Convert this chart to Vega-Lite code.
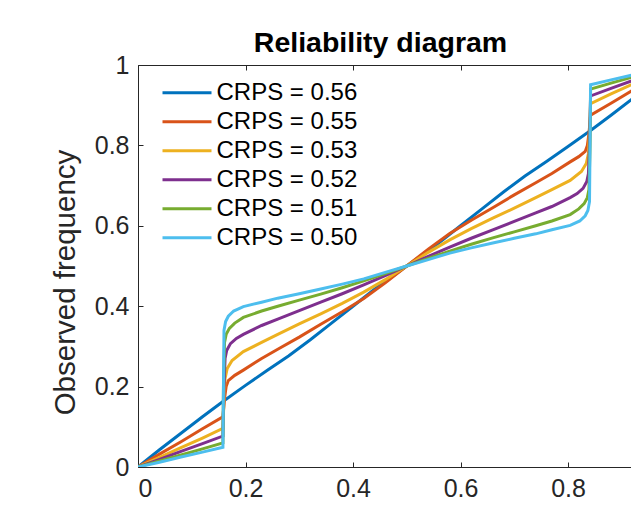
{
  "$schema": "https://vega.github.io/schema/vega-lite/v6.json",
  "width": 493,
  "height": 402,
  "autosize": {"type": "none"},
  "padding": {"left": 138, "top": 65, "right": 0, "bottom": 42},
  "title": {"text": "Reliability diagram", "fontSize": 28.5, "fontWeight": "bold", "font": "Liberation Sans", "color": "#000000", "anchor": "middle", "frame": "group", "offset": -4, "dx": -4},
  "config": {
    "view": {"stroke": null},
    "font": "Liberation Sans",
    "axis": {"labelFont": "Liberation Sans", "labelFontSize": 25, "labelColor": "#262626", "domainColor": "#262626", "tickColor": "#262626", "titleFont": "Liberation Sans", "titleFontSize": 29.5, "titleFontWeight": "normal", "titleColor": "#262626", "grid": false, "tickSize": -5, "domainWidth": 1, "tickWidth": 1}
  },
  "data": {"values": [
    {"s":"CRPS = 0.56","x":0,"y":0},{"s":"CRPS = 0.56","x":0.04,"y":0.043},{"s":"CRPS = 0.56","x":0.08,"y":0.084},{"s":"CRPS = 0.56","x":0.12,"y":0.125},{"s":"CRPS = 0.56","x":0.158,"y":0.163},{"s":"CRPS = 0.56","x":0.2,"y":0.203},{"s":"CRPS = 0.56","x":0.24,"y":0.24},{"s":"CRPS = 0.56","x":0.28,"y":0.276},{"s":"CRPS = 0.56","x":0.32,"y":0.316},{"s":"CRPS = 0.56","x":0.36,"y":0.358},{"s":"CRPS = 0.56","x":0.4,"y":0.4},{"s":"CRPS = 0.56","x":0.44,"y":0.442},{"s":"CRPS = 0.56","x":0.5,"y":0.5},{"s":"CRPS = 0.56","x":0.56,"y":0.558},{"s":"CRPS = 0.56","x":0.6,"y":0.6},{"s":"CRPS = 0.56","x":0.64,"y":0.642},{"s":"CRPS = 0.56","x":0.68,"y":0.684},{"s":"CRPS = 0.56","x":0.72,"y":0.724},{"s":"CRPS = 0.56","x":0.76,"y":0.76},{"s":"CRPS = 0.56","x":0.8,"y":0.797},{"s":"CRPS = 0.56","x":0.842,"y":0.837},{"s":"CRPS = 0.56","x":0.88,"y":0.875},{"s":"CRPS = 0.56","x":0.92,"y":0.916},{"s":"CRPS = 0.56","x":0.96,"y":0.957},{"s":"CRPS = 0.56","x":1,"y":1},

    {"s":"CRPS = 0.55","x":0,"y":0},{"s":"CRPS = 0.55","x":0.04,"y":0.032},{"s":"CRPS = 0.55","x":0.08,"y":0.063},{"s":"CRPS = 0.55","x":0.12,"y":0.095},{"s":"CRPS = 0.55","x":0.158,"y":0.125},{"s":"CRPS = 0.55","x":0.161,"y":0.17},{"s":"CRPS = 0.55","x":0.164,"y":0.2},{"s":"CRPS = 0.55","x":0.168,"y":0.215},{"s":"CRPS = 0.55","x":0.18,"y":0.228},{"s":"CRPS = 0.55","x":0.196,"y":0.241},{"s":"CRPS = 0.55","x":0.23,"y":0.27},{"s":"CRPS = 0.55","x":0.26,"y":0.293},{"s":"CRPS = 0.55","x":0.3,"y":0.323},{"s":"CRPS = 0.55","x":0.34,"y":0.355},{"s":"CRPS = 0.55","x":0.38,"y":0.386},{"s":"CRPS = 0.55","x":0.42,"y":0.419},{"s":"CRPS = 0.55","x":0.46,"y":0.458},{"s":"CRPS = 0.55","x":0.5,"y":0.5},{"s":"CRPS = 0.55","x":0.54,"y":0.542},{"s":"CRPS = 0.55","x":0.58,"y":0.581},{"s":"CRPS = 0.55","x":0.62,"y":0.614},{"s":"CRPS = 0.55","x":0.66,"y":0.645},{"s":"CRPS = 0.55","x":0.7,"y":0.677},{"s":"CRPS = 0.55","x":0.74,"y":0.707},{"s":"CRPS = 0.55","x":0.77,"y":0.73},{"s":"CRPS = 0.55","x":0.804,"y":0.759},{"s":"CRPS = 0.55","x":0.82,"y":0.772},{"s":"CRPS = 0.55","x":0.832,"y":0.785},{"s":"CRPS = 0.55","x":0.836,"y":0.8},{"s":"CRPS = 0.55","x":0.839,"y":0.83},{"s":"CRPS = 0.55","x":0.842,"y":0.875},{"s":"CRPS = 0.55","x":0.88,"y":0.905},{"s":"CRPS = 0.55","x":0.92,"y":0.937},{"s":"CRPS = 0.55","x":0.96,"y":0.968},{"s":"CRPS = 0.55","x":1,"y":1},

    {"s":"CRPS = 0.53","x":0,"y":0},{"s":"CRPS = 0.53","x":0.04,"y":0.024},{"s":"CRPS = 0.53","x":0.08,"y":0.048},{"s":"CRPS = 0.53","x":0.12,"y":0.072},{"s":"CRPS = 0.53","x":0.158,"y":0.096},{"s":"CRPS = 0.53","x":0.16,"y":0.17},{"s":"CRPS = 0.53","x":0.162,"y":0.22},{"s":"CRPS = 0.53","x":0.166,"y":0.245},{"s":"CRPS = 0.53","x":0.175,"y":0.265},{"s":"CRPS = 0.53","x":0.196,"y":0.287},{"s":"CRPS = 0.53","x":0.23,"y":0.31},{"s":"CRPS = 0.53","x":0.26,"y":0.33},{"s":"CRPS = 0.53","x":0.3,"y":0.356},{"s":"CRPS = 0.53","x":0.34,"y":0.381},{"s":"CRPS = 0.53","x":0.38,"y":0.407},{"s":"CRPS = 0.53","x":0.42,"y":0.435},{"s":"CRPS = 0.53","x":0.46,"y":0.466},{"s":"CRPS = 0.53","x":0.5,"y":0.5},{"s":"CRPS = 0.53","x":0.54,"y":0.534},{"s":"CRPS = 0.53","x":0.58,"y":0.565},{"s":"CRPS = 0.53","x":0.62,"y":0.593},{"s":"CRPS = 0.53","x":0.66,"y":0.619},{"s":"CRPS = 0.53","x":0.7,"y":0.644},{"s":"CRPS = 0.53","x":0.74,"y":0.67},{"s":"CRPS = 0.53","x":0.77,"y":0.69},{"s":"CRPS = 0.53","x":0.804,"y":0.713},{"s":"CRPS = 0.53","x":0.825,"y":0.735},{"s":"CRPS = 0.53","x":0.834,"y":0.755},{"s":"CRPS = 0.53","x":0.838,"y":0.78},{"s":"CRPS = 0.53","x":0.84,"y":0.83},{"s":"CRPS = 0.53","x":0.842,"y":0.904},{"s":"CRPS = 0.53","x":0.88,"y":0.928},{"s":"CRPS = 0.53","x":0.92,"y":0.952},{"s":"CRPS = 0.53","x":0.96,"y":0.976},{"s":"CRPS = 0.53","x":1,"y":1},

    {"s":"CRPS = 0.52","x":0,"y":0},{"s":"CRPS = 0.52","x":0.04,"y":0.019},{"s":"CRPS = 0.52","x":0.08,"y":0.039},{"s":"CRPS = 0.52","x":0.12,"y":0.058},{"s":"CRPS = 0.52","x":0.158,"y":0.077},{"s":"CRPS = 0.52","x":0.16,"y":0.2},{"s":"CRPS = 0.52","x":0.162,"y":0.27},{"s":"CRPS = 0.52","x":0.165,"y":0.29},{"s":"CRPS = 0.52","x":0.172,"y":0.307},{"s":"CRPS = 0.52","x":0.183,"y":0.32},{"s":"CRPS = 0.52","x":0.196,"y":0.33},{"s":"CRPS = 0.52","x":0.23,"y":0.352},{"s":"CRPS = 0.52","x":0.26,"y":0.368},{"s":"CRPS = 0.52","x":0.3,"y":0.389},{"s":"CRPS = 0.52","x":0.34,"y":0.41},{"s":"CRPS = 0.52","x":0.38,"y":0.431},{"s":"CRPS = 0.52","x":0.42,"y":0.453},{"s":"CRPS = 0.52","x":0.46,"y":0.476},{"s":"CRPS = 0.52","x":0.5,"y":0.5},{"s":"CRPS = 0.52","x":0.54,"y":0.524},{"s":"CRPS = 0.52","x":0.58,"y":0.547},{"s":"CRPS = 0.52","x":0.62,"y":0.569},{"s":"CRPS = 0.52","x":0.66,"y":0.59},{"s":"CRPS = 0.52","x":0.7,"y":0.611},{"s":"CRPS = 0.52","x":0.74,"y":0.632},{"s":"CRPS = 0.52","x":0.77,"y":0.648},{"s":"CRPS = 0.52","x":0.804,"y":0.67},{"s":"CRPS = 0.52","x":0.817,"y":0.68},{"s":"CRPS = 0.52","x":0.828,"y":0.693},{"s":"CRPS = 0.52","x":0.835,"y":0.71},{"s":"CRPS = 0.52","x":0.838,"y":0.73},{"s":"CRPS = 0.52","x":0.84,"y":0.8},{"s":"CRPS = 0.52","x":0.842,"y":0.923},{"s":"CRPS = 0.52","x":0.88,"y":0.942},{"s":"CRPS = 0.52","x":0.92,"y":0.961},{"s":"CRPS = 0.52","x":0.96,"y":0.981},{"s":"CRPS = 0.52","x":1,"y":1},

    {"s":"CRPS = 0.51","x":0,"y":0},{"s":"CRPS = 0.51","x":0.04,"y":0.015},{"s":"CRPS = 0.51","x":0.08,"y":0.03},{"s":"CRPS = 0.51","x":0.12,"y":0.045},{"s":"CRPS = 0.51","x":0.158,"y":0.06},{"s":"CRPS = 0.51","x":0.159,"y":0.2},{"s":"CRPS = 0.51","x":0.161,"y":0.31},{"s":"CRPS = 0.51","x":0.164,"y":0.33},{"s":"CRPS = 0.51","x":0.17,"y":0.345},{"s":"CRPS = 0.51","x":0.18,"y":0.358},{"s":"CRPS = 0.51","x":0.196,"y":0.372},{"s":"CRPS = 0.51","x":0.23,"y":0.388},{"s":"CRPS = 0.51","x":0.26,"y":0.4},{"s":"CRPS = 0.51","x":0.3,"y":0.415},{"s":"CRPS = 0.51","x":0.34,"y":0.43},{"s":"CRPS = 0.51","x":0.38,"y":0.446},{"s":"CRPS = 0.51","x":0.42,"y":0.463},{"s":"CRPS = 0.51","x":0.46,"y":0.481},{"s":"CRPS = 0.51","x":0.5,"y":0.5},{"s":"CRPS = 0.51","x":0.54,"y":0.519},{"s":"CRPS = 0.51","x":0.58,"y":0.537},{"s":"CRPS = 0.51","x":0.62,"y":0.554},{"s":"CRPS = 0.51","x":0.66,"y":0.57},{"s":"CRPS = 0.51","x":0.7,"y":0.585},{"s":"CRPS = 0.51","x":0.74,"y":0.6},{"s":"CRPS = 0.51","x":0.77,"y":0.612},{"s":"CRPS = 0.51","x":0.804,"y":0.628},{"s":"CRPS = 0.51","x":0.82,"y":0.642},{"s":"CRPS = 0.51","x":0.83,"y":0.655},{"s":"CRPS = 0.51","x":0.836,"y":0.67},{"s":"CRPS = 0.51","x":0.839,"y":0.69},{"s":"CRPS = 0.51","x":0.841,"y":0.8},{"s":"CRPS = 0.51","x":0.842,"y":0.94},{"s":"CRPS = 0.51","x":0.88,"y":0.955},{"s":"CRPS = 0.51","x":0.92,"y":0.97},{"s":"CRPS = 0.51","x":0.96,"y":0.985},{"s":"CRPS = 0.51","x":1,"y":1},

    {"s":"CRPS = 0.50","x":0,"y":0},{"s":"CRPS = 0.50","x":0.04,"y":0.012},{"s":"CRPS = 0.50","x":0.08,"y":0.025},{"s":"CRPS = 0.50","x":0.12,"y":0.037},{"s":"CRPS = 0.50","x":0.158,"y":0.049},{"s":"CRPS = 0.50","x":0.159,"y":0.2},{"s":"CRPS = 0.50","x":0.16,"y":0.34},{"s":"CRPS = 0.50","x":0.163,"y":0.362},{"s":"CRPS = 0.50","x":0.168,"y":0.375},{"s":"CRPS = 0.50","x":0.178,"y":0.388},{"s":"CRPS = 0.50","x":0.196,"y":0.399},{"s":"CRPS = 0.50","x":0.23,"y":0.41},{"s":"CRPS = 0.50","x":0.26,"y":0.42},{"s":"CRPS = 0.50","x":0.3,"y":0.431},{"s":"CRPS = 0.50","x":0.34,"y":0.443},{"s":"CRPS = 0.50","x":0.38,"y":0.455},{"s":"CRPS = 0.50","x":0.42,"y":0.468},{"s":"CRPS = 0.50","x":0.46,"y":0.484},{"s":"CRPS = 0.50","x":0.5,"y":0.5},{"s":"CRPS = 0.50","x":0.54,"y":0.516},{"s":"CRPS = 0.50","x":0.58,"y":0.532},{"s":"CRPS = 0.50","x":0.62,"y":0.545},{"s":"CRPS = 0.50","x":0.66,"y":0.557},{"s":"CRPS = 0.50","x":0.7,"y":0.569},{"s":"CRPS = 0.50","x":0.74,"y":0.58},{"s":"CRPS = 0.50","x":0.77,"y":0.59},{"s":"CRPS = 0.50","x":0.804,"y":0.601},{"s":"CRPS = 0.50","x":0.822,"y":0.612},{"s":"CRPS = 0.50","x":0.832,"y":0.625},{"s":"CRPS = 0.50","x":0.837,"y":0.638},{"s":"CRPS = 0.50","x":0.84,"y":0.66},{"s":"CRPS = 0.50","x":0.841,"y":0.8},{"s":"CRPS = 0.50","x":0.842,"y":0.951},{"s":"CRPS = 0.50","x":0.88,"y":0.963},{"s":"CRPS = 0.50","x":0.92,"y":0.975},{"s":"CRPS = 0.50","x":0.96,"y":0.988},{"s":"CRPS = 0.50","x":1,"y":1}
  ]},
  "layer": [
    {
      "mark": {"type": "line", "strokeWidth": 3, "clip": true},
      "encoding": {
        "x": {"field": "x", "type": "quantitative", "scale": {"domain": [0, 0.9172], "nice": false, "zero": false},
              "axis": {"orient": "bottom", "values": [0, 0.2, 0.4, 0.6, 0.8], "format": "~g", "title": null, "labelPadding": 14}},
        "y": {"field": "y", "type": "quantitative", "scale": {"domain": [0, 1], "nice": false},
              "axis": {"values": [0, 0.2, 0.4, 0.6, 0.8, 1], "format": "~g", "title": "Observed frequency", "labelPadding": 14, "titlePadding": 14, "titleY": 217}},
        "color": {"field": "s", "type": "nominal",
                  "scale": {"domain": ["CRPS = 0.56", "CRPS = 0.55", "CRPS = 0.53", "CRPS = 0.52", "CRPS = 0.51", "CRPS = 0.50"],
                            "range": ["#0072BD", "#D95319", "#EDB120", "#7E2F8E", "#77AC30", "#4DBEEE"]},
                  "legend": {"orient": "none", "legendX": 35, "legendY": 13.7, "title": null, "symbolType": "M-2,0H2", "symbolSize": 600, "symbolStrokeWidth": 3, "labelFontSize": 24, "labelFont": "Liberation Sans", "labelColor": "#000000", "rowPadding": 3, "padding": 0, "labelOffset": 15.5, "labelLimit": 300}}
      }
    },
    {
      "mark": {"type": "point", "opacity": 0},
      "encoding": {
        "x": {"field": "x", "type": "quantitative", "axis": {"orient": "top", "values": [0, 0.2, 0.4, 0.6, 0.8], "labels": false, "title": null}}
      }
    }
  ],
  "resolve": {"axis": {"x": "independent"}}
}
